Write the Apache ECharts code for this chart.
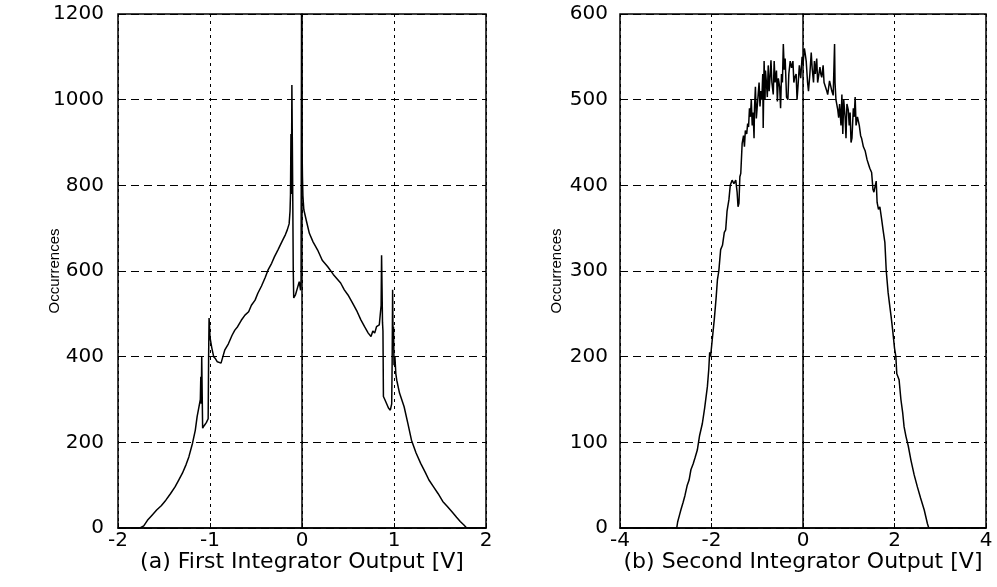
<!DOCTYPE html>
<html>
<head>
<meta charset="utf-8">
<script src="https://cdn.jsdelivr.net/npm/echarts@6/dist/echarts.min.js"></script>
<style>html,body{margin:0;padding:0;background:#fff;}#c{width:997px;height:587px;}</style>
</head>
<body>
<div id="c"></div>
<script>
// Panel (a): First integrator output histogram
const leftX = [-2.0,-1.90,-1.76,-1.72,-1.68,-1.63,-1.58,-1.53,-1.48,-1.43,-1.38,-1.34,-1.30,-1.26,-1.23,-1.19,-1.16,-1.14,-1.12,-1.105,-1.10,-1.095,-1.09,-1.085,-1.08,-1.06,-1.04,-1.02,-1.015,-1.01,-1.005,-1.00,-0.98,-0.96,-0.94,-0.92,-0.90,-0.88,-0.86,-0.84,-0.80,-0.76,-0.73,-0.70,-0.66,-0.62,-0.58,-0.55,-0.51,-0.48,-0.44,-0.40,-0.37,-0.33,-0.30,-0.26,-0.21,-0.18,-0.16,-0.14,-0.13,-0.125,-0.12,-0.115,-0.11,-0.105,-0.10,-0.095,-0.09,-0.07,-0.05,-0.03,-0.015,-0.01,-0.005,0.0,0.005,0.01,0.02,0.05,0.08,0.12,0.17,0.22,0.28,0.34,0.42,0.46,0.50,0.55,0.60,0.64,0.68,0.72,0.75,0.77,0.79,0.81,0.84,0.86,0.865,0.87,0.875,0.88,0.885,0.90,0.92,0.94,0.96,0.975,0.98,0.985,0.99,0.995,1.00,1.01,1.02,1.03,1.06,1.11,1.15,1.19,1.24,1.29,1.34,1.38,1.43,1.48,1.53,1.58,1.63,1.68,1.72,1.76,1.79,2.0];
const leftY = [0,0,0,5,18,30,42,52,65,80,96,112,128,148,166,198,228,260,283,300,353,290,400,400,233,240,246,255,400,490,470,445,420,400,395,388,392,385,400,415,430,450,462,470,485,497,505,520,532,548,565,585,602,618,633,650,672,685,696,710,740,780,920,780,1034,900,760,600,537,545,560,575,555,580,1200,900,820,775,743,715,688,668,649,625,610,592,572,556,544,525,505,486,470,455,447,460,455,470,474,520,637,560,480,460,307,300,290,280,275,290,390,556,440,470,380,400,360,345,315,283,245,205,175,151,130,112,96,80,62,50,38,25,15,7,0,0];

// Panel (b): Second integrator output histogram
const rightX = [-4,-2.76,-2.74,-2.70,-2.67,-2.62,-2.58,-2.53,-2.49,-2.45,-2.40,-2.36,-2.31,-2.26,-2.20,-2.15,-2.09,-2.06,-2.04,-2.02,-1.98,-1.94,-1.90,-1.87,-1.84,-1.80,-1.76,-1.72,-1.69,-1.66,-1.62,-1.59,-1.55,-1.51,-1.47,-1.44,-1.42,-1.40,-1.38,-1.36,-1.33,-1.30,-1.28,-1.26,-1.23,-1.21,-1.19,-1.17,-1.15,-1.13,-1.11,-1.09,-1.07,-1.06,-1.04,-1.02,-0.98,-0.96,-0.94,-0.92,-0.90,-0.88,-0.87,-0.85,-0.83,-0.82,-0.80,-0.78,-0.76,-0.74,-0.72,-0.70,-0.68,-0.65,-0.63,-0.61,-0.58,-0.56,-0.54,-0.51,-0.49,-0.47,-0.45,-0.43,-0.41,-0.39,-0.36,-0.33,-0.31,-0.28,-0.25,-0.22,-0.20,-0.18,-0.15,-0.13,-0.11,-0.08,-0.05,-0.02,0.0,0.03,0.05,0.07,0.10,0.12,0.15,0.18,0.20,0.23,0.25,0.27,0.30,0.32,0.34,0.37,0.39,0.41,0.44,0.46,0.49,0.52,0.54,0.56,0.58,0.61,0.63,0.66,0.69,0.70,0.72,0.74,0.76,0.78,0.80,0.83,0.85,0.87,0.89,0.92,0.94,0.96,0.99,1.01,1.03,1.05,1.07,1.10,1.12,1.14,1.16,1.19,1.21,1.23,1.26,1.28,1.32,1.36,1.40,1.43,1.46,1.50,1.53,1.55,1.57,1.60,1.62,1.65,1.68,1.72,1.75,1.79,1.82,1.86,1.89,1.93,1.96,2.00,2.03,2.05,2.08,2.10,2.14,2.18,2.21,2.25,2.30,2.36,2.43,2.50,2.57,2.65,2.72,2.75,4.0];
const rightY = [0,0,7,15,21,30,38,50,56,68,75,82,91,108,122,140,165,185,205,200,222,243,268,290,300,325,330,345,348,370,383,400,406,402,406,392,375,379,410,414,449,458,445,464,460,472,468,490,480,500,470,485,455,490,515,478,480,520,492,510,500,530,467,545,500,534,520,503,540,510,526,546,520,506,545,520,534,498,525,515,490,530,520,565,535,548,503,500,530,545,537,545,520,526,530,500,515,540,525,550,541,560,553,545,520,510,530,555,537,520,545,530,548,520,521,538,530,526,540,520,521,510,506,506,522,515,510,505,565,520,500,500,488,479,495,470,506,460,500,480,455,495,488,470,485,450,455,490,480,503,470,480,480,470,458,455,445,440,430,425,420,415,395,392,390,405,380,372,375,360,348,333,300,275,262,245,231,210,200,180,182,173,150,134,118,107,96,79,62,48,35,21,5,0,0];

const leftTicks = [-2,-1,0,1,2];
const rightTicks = [-4,-2,0,2,4];

const FONT = 'DejaVu Sans';
const pairs = (xs, ys) => xs.map((x, i) => [x, ys[i]]);
const plain = v => String(v);

function xAxisCfg(gi, min, max, interval, name) {
  return {
    type: 'value', gridIndex: gi, min: min, max: max, interval: interval,
    name: name, nameLocation: 'middle', nameGap: 23, nameMoveOverlap: false,
    nameTextStyle: {fontFamily: FONT, fontSize: 22, color: '#000'},
    axisLine: {show: true, lineStyle: {color: '#000', width: 1.5}},
    axisTick: {show: true, inside: true, length: 5, lineStyle: {color: '#000'}},
    axisLabel: {fontFamily: FONT, fontSize: 20, color: '#000', margin: 3, formatter: plain},
    splitLine: {show: true, lineStyle: {color: '#000', width: 1, type: [3, 4]}}
  };
}
function yAxisCfg(gi, max, interval, labelMargin) {
  return {
    type: 'value', gridIndex: gi, min: 0, max: max, interval: interval,
    name: 'Occurrences', nameLocation: 'middle', nameGap: 56, nameMoveOverlap: false,
    nameTextStyle: {fontFamily: 'Liberation Sans', fontSize: 15, color: '#000'},
    axisLine: {show: true, lineStyle: {color: '#000', width: 1.5}},
    axisTick: {show: true, inside: true, length: 5, lineStyle: {color: '#000'}},
    axisLabel: {fontFamily: FONT, fontSize: 20, color: '#000', margin: labelMargin, formatter: plain},
    splitLine: {show: true, lineStyle: {color: '#000', width: 1, type: [8, 5]}}
  };
}

const chart = echarts.init(document.getElementById('c'), null, {renderer: 'canvas'});
chart.setOption({
  backgroundColor: '#fff',
  animation: false,
  grid: [
    {left: 118, right: 511, top: 14, bottom: 59, show: true, borderColor: '#000', borderWidth: 1.5, backgroundColor: 'transparent'},
    {left: 620, right: 11, top: 14, bottom: 59, show: true, borderColor: '#000', borderWidth: 1.5, backgroundColor: 'transparent'}
  ],
  xAxis: [
    xAxisCfg(0, leftTicks[0], leftTicks[leftTicks.length - 1], 1, '(a) First Integrator Output [V]'),
    xAxisCfg(1, rightTicks[0], rightTicks[rightTicks.length - 1], 2, '(b) Second Integrator Output [V]')
  ],
  yAxis: [yAxisCfg(0, 1200, 200, 14), yAxisCfg(1, 600, 100, 12)],
  series: [
    {type: 'line', xAxisIndex: 0, yAxisIndex: 0, data: pairs(leftX, leftY), showSymbol: false, clip: true,
     lineStyle: {color: '#000', width: 1.5}},
    {type: 'line', xAxisIndex: 1, yAxisIndex: 1, data: pairs(rightX, rightY), showSymbol: false, clip: true,
     lineStyle: {color: '#000', width: 1.5}}
  ]
});
</script>
</body>
</html>
